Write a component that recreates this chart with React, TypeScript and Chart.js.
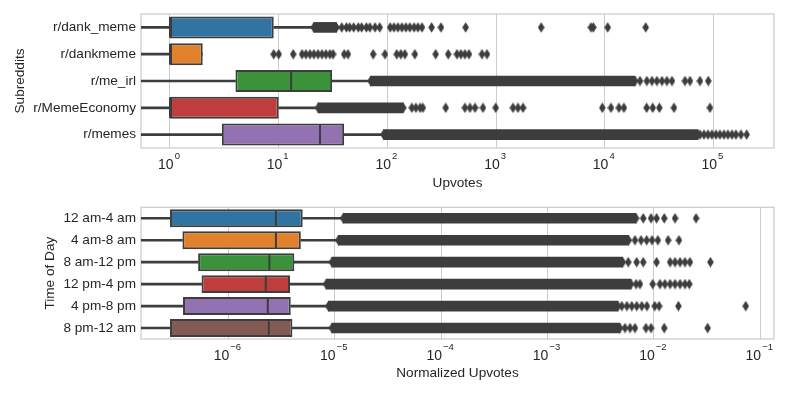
import React, { useEffect, useRef } from 'react';
import { Chart, registerables } from 'chart.js';

Chart.register(...registerables);

// ---------- data: subreddits (top panel) ----------
const subreddits = ['r/dank_meme', 'r/dankmeme', 'r/me_irl', 'r/MemeEconomy', 'r/memes'];
// lower whiskers reach 0 upvotes (off the log axis to the left)
const subWhiskerLow = [0.1, 0.1, 0.1, 0.1, 0.1];
const subQ1 = [1, 1, 4, 1, 3];
const subMedian = [1, 1, 13, 1, 24];
const subQ3 = [9, 2, 31, 10, 40];
const subWhiskerHigh = [21, 2, 69, 22, 91];
const subBandStart = [21, null, 70, 23, 92];
const subBandEnd = [34, null, 19000, 140, 72000];
const subOutliers: number[][] = [
  [21, 34, 38, 42, 45, 49, 54, 58, 64, 69, 77, 85, 106, 115, 125, 136, 148, 161, 176, 191, 208, 255, 311, 525, 2600, 7470, 7840, 10640, 23800],
  [9, 10, 13.6, 16.4, 17.8, 19.4, 21.1, 23, 25, 27.2, 29.6, 31.6, 40, 43.4, 74, 95, 122, 133, 145, 179, 278, 363, 437, 475, 517, 563, 742, 825],
  [70, 19000, 21080, 24400, 27200, 30200, 33600, 37300, 41500, 54700, 60800, 75100, 89600],
  [23, 140, 168, 183, 200, 212, 344, 517, 575, 640, 758, 992, 1430, 1590, 1770, 9490, 11400, 13500, 15000, 24300, 27600, 31800, 43300, 92900],
  [92, 72000, 75100, 81800, 89000, 96800, 105400, 114700, 124900, 135900, 148000, 161000, 179000, 202000],
];
const subTicks = [1, 10, 100, 1000, 10000, 100000];

// ---------- data: time of day (bottom panel) ----------
const timeSlots = ['12 am-4 am', '4 am-8 am', '8 am-12 pm', '12 pm-4 pm', '4 pm-8 pm', '8 pm-12 am'];
// lower whiskers reach 0 (off the log axis to the left)
const timeWhiskerLow = [1e-8, 1e-8, 1e-8, 1e-8, 1e-8, 1e-8];
const timeQ1 = [2.83e-7, 3.7e-7, 5.2e-7, 5.6e-7, 3.75e-7, 2.83e-7];
const timeMedian = [2.8e-6, 2.8e-6, 2.43e-6, 2.25e-6, 2.35e-6, 2.4e-6];
const timeQ3 = [5.0e-6, 4.8e-6, 4.17e-6, 3.8e-6, 3.86e-6, 4.0e-6];
const timeWhiskerHigh = [1.2e-5, 1.08e-5, 9.4e-6, 8.3e-6, 8.7e-6, 9.4e-6];
const timeBandStart = [1.2e-5, 1.08e-5, 9.4e-6, 8.3e-6, 8.7e-6, 9.4e-6];
const timeBandEnd = [6.8e-3, 5.8e-3, 5.1e-3, 6.1e-3, 4.6e-3, 4.8e-3];
const timeOutliers: number[][] = [
  [1.2e-5, 6.8e-3, 7.94e-3, 9.4e-3, 1.06e-2, 1.25e-2, 1.58e-2, 2.49e-2],
  [1.08e-5, 5.8e-3, 6.64e-3, 7.57e-3, 8.55e-3, 9.6e-3, 1.09e-2, 1.36e-2, 1.72e-2],
  [9.4e-6, 5.1e-3, 5.74e-3, 6.89e-3, 7.94e-3, 1.06e-2, 1.42e-2, 1.58e-2, 1.76e-2, 1.96e-2, 2.18e-2, 3.4e-2],
  [8.3e-6, 6.1e-3, 6.8e-3, 7.4e-3, 9.75e-3, 1.14e-2, 1.27e-2, 1.42e-2, 1.58e-2, 1.76e-2, 1.96e-2, 2.15e-2],
  [8.7e-6, 4.6e-3, 5.0e-3, 5.58e-3, 6.2e-3, 6.9e-3, 7.7e-3, 8.6e-3, 1.02e-2, 1.12e-2, 1.7e-2, 7.3e-2],
  [9.4e-6, 4.8e-3, 5.35e-3, 5.97e-3, 6.64e-3, 8.43e-3, 9.4e-3, 1.25e-2, 3.2e-2],
];
const timeTicks = [1e-6, 1e-5, 1e-4, 1e-3, 1e-2, 1e-1];

// ---------- styles ----------
const paletteTop = ['#3274A1', '#E1812C', '#3A923A', '#C03D3E', '#9372B2'];
const paletteBottom = ['#3274A1', '#E1812C', '#3A923A', '#C03D3E', '#9372B2', '#845B53'];
const FONT = "'Liberation Sans', Arial, sans-serif";
const TEXT = '#262626';
const LINE = '#3d3d3d';
const GRID = '#cccccc';

function makeDiamond(): HTMLCanvasElement {
  const c = document.createElement('canvas');
  c.width = 7;
  c.height = 11;
  const g = c.getContext('2d')!;
  g.fillStyle = LINE;
  g.beginPath();
  g.moveTo(3.5, 0.2);
  g.lineTo(6.8, 5.5);
  g.lineTo(3.5, 10.8);
  g.lineTo(0.2, 5.5);
  g.closePath();
  g.fill();
  return c;
}

const framePlugin = {
  id: 'frameAndLogTicks',
  beforeDatasetsDraw(chart: any) {
    const { ctx, chartArea: a } = chart;
    ctx.save();
    ctx.strokeStyle = GRID;
    ctx.lineWidth = 1.25;
    ctx.strokeRect(a.left, a.top, a.right - a.left, a.bottom - a.top);
    ctx.restore();
  },
  afterDraw(chart: any) {
    const s = chart.scales.x;
    const ctx = chart.ctx;
    ctx.save();
    ctx.fillStyle = TEXT;
    ctx.textBaseline = 'alphabetic';
    ctx.textAlign = 'left';
    for (const t of s.ticks) {
      const exp = Math.round(Math.log10(t.value));
      const base = '10';
      const sup = exp < 0 ? '\u2212' + String(-exp) : String(exp);
      ctx.font = `14px ${FONT}`;
      const bw = ctx.measureText(base).width;
      ctx.font = `9.5px ${FONT}`;
      const sw = ctx.measureText(sup).width;
      const total = bw + 1 + sw;
      const x0 = s.getPixelForValue(t.value) - total / 2 - 1;
      const y = s.top + 21.3;
      ctx.font = `14px ${FONT}`;
      ctx.fillText(base, x0, y);
      ctx.font = `9.5px ${FONT}`;
      ctx.fillText(sup, x0 + bw + 1, y - 10);
    }
    ctx.restore();
  },
};

interface PanelCfg {
  labels: string[];
  low: number[];
  q1: number[];
  med: number[];
  q3: number[];
  high: number[];
  bandStart: (number | null)[];
  bandEnd: (number | null)[];
  outliers: number[][];
  colors: string[];
  ticks: number[];
  min: number;
  max: number;
  xTitle: string;
  yTitle: string;
  padTop: number;
  xAxisHeight: number;
  xTitlePadBottom: number;
  yTitlePad: number;
  medianRadius: number;
}

function buildChart(canvas: HTMLCanvasElement, p: PanelCfg) {
  const diamond = makeDiamond();
  const outlierPts: { x: number; y: string }[] = [];
  p.outliers.forEach((row, i) => row.forEach((v) => outlierPts.push({ x: v, y: p.labels[i] })));
  const medianPts = p.med.map((v, i) => ({ x: v, y: p.labels[i] }));

  return new Chart(canvas, {
    type: 'bar',
    data: {
      labels: p.labels,
      datasets: [
        {
          type: 'bar',
          label: 'band',
          data: p.bandStart.map((s, i) => (s === null ? null : [s, p.bandEnd[i]])) as any,
          backgroundColor: LINE,
          borderWidth: 0,
          barThickness: 10,
          grouped: false,
          clip: 0,
          order: 3,
        } as any,
        {
          type: 'bar',
          label: 'whiskerLow',
          data: p.low.map((v, i) => [v, p.q1[i]]) as any,
          backgroundColor: LINE,
          borderWidth: 0,
          barThickness: 2,
          grouped: false,
          clip: 0,
          order: 2,
        } as any,
        {
          type: 'bar',
          label: 'whiskerHigh',
          data: p.q3.map((v, i) => [v, p.high[i]]) as any,
          backgroundColor: LINE,
          borderWidth: 0,
          barThickness: 2,
          grouped: false,
          clip: 0,
          order: 2,
        } as any,
        {
          type: 'bar',
          label: 'box',
          data: p.q1.map((v, i) => [v, p.q3[i]]) as any,
          backgroundColor: p.colors,
          borderColor: LINE,
          borderWidth: 2,
          borderSkipped: false,
          barPercentage: 0.82,
          categoryPercentage: 1,
          grouped: false,
          clip: 0,
          order: 1,
        } as any,
        {
          type: 'scatter',
          label: 'median',
          data: medianPts as any,
          pointStyle: 'line',
          rotation: 90,
          radius: p.medianRadius,
          borderColor: LINE,
          borderWidth: 2,
          order: 0,
        } as any,
        {
          type: 'scatter',
          label: 'outliers',
          data: outlierPts as any,
          pointStyle: diamond,
          radius: 5,
          order: 0,
        } as any,
      ],
    },
    options: {
      indexAxis: 'y',
      animation: false,
      responsive: false,
      devicePixelRatio: 1,
      events: [],
      layout: { padding: { top: p.padTop, left: 0, right: 15, bottom: 0 } },
      plugins: { legend: { display: false }, tooltip: { enabled: false } },
      scales: {
        x: {
          type: 'logarithmic',
          position: 'bottom',
          min: p.min,
          max: p.max,
          grid: { color: GRID, lineWidth: 1, drawTicks: false },
          border: { display: false },
          ticks: { display: false },
          title: {
            display: true,
            text: p.xTitle,
            color: TEXT,
            font: { family: FONT, size: 13.6 },
            padding: { top: 0, bottom: p.xTitlePadBottom },
          },
          afterBuildTicks: (scale: any) => {
            scale.ticks = p.ticks.map((v) => ({ value: v }));
          },
          afterFit: (scale: any) => {
            scale.height = p.xAxisHeight;
            scale.paddingLeft = 0;
            scale.paddingRight = 0;
          },
        },
        y: {
          type: 'category',
          offset: true,
          grid: { display: false, drawTicks: false, tickLength: 0 },
          border: { display: false },
          ticks: { color: TEXT, font: { family: FONT, size: 13.6 }, padding: 5 },
          title: {
            display: true,
            text: p.yTitle,
            color: TEXT,
            font: { family: FONT, size: 13.6 },
            padding: { top: p.yTitlePad, bottom: 0 },
          },
          afterFit: (scale: any) => {
            scale.width = 141;
            scale.paddingTop = 0;
            scale.paddingBottom = 0;
          },
        },
      },
    } as any,
    plugins: [framePlugin],
  });
}

function Panel({ cfg, top, height }: { cfg: PanelCfg; top: number; height: number }) {
  const ref = useRef<HTMLCanvasElement>(null);
  useEffect(() => {
    if (!ref.current) return;
    const chart = buildChart(ref.current, cfg);
    return () => chart.destroy();
  }, []);
  return (
    <canvas
      ref={ref}
      width={789}
      height={height}
      style={{ position: 'absolute', left: 0, top, width: 789, height, display: 'block' }}
    />
  );
}

const topCfg: PanelCfg = {
  labels: subreddits,
  low: subWhiskerLow,
  q1: subQ1,
  med: subMedian,
  q3: subQ3,
  high: subWhiskerHigh,
  bandStart: subBandStart,
  bandEnd: subBandEnd,
  outliers: subOutliers,
  colors: paletteTop,
  ticks: subTicks,
  min: 0.541,
  max: 360600,
  xTitle: 'Upvotes',
  yTitle: 'Subreddits',
  padTop: 14,
  xAxisHeight: 49,
  xTitlePadBottom: 5.8,
  yTitlePad: 11.8,
  medianRadius: 10.3,
};

const bottomCfg: PanelCfg = {
  labels: timeSlots,
  low: timeWhiskerLow,
  q1: timeQ1,
  med: timeMedian,
  q3: timeQ3,
  high: timeWhiskerHigh,
  bandStart: timeBandStart,
  bandEnd: timeBandEnd,
  outliers: timeOutliers,
  colors: paletteBottom,
  ticks: timeTicks,
  min: 1.51e-7,
  max: 0.1346,
  xTitle: 'Normalized Upvotes',
  yTitle: 'Time of Day',
  padTop: 8,
  xAxisHeight: 56,
  xTitlePadBottom: 13.3,
  yTitlePad: 41.8,
  medianRadius: 8.3,
};

export default function App() {
  return (
    <div style={{ position: 'absolute', left: 0, top: 0, width: 789, height: 395, background: '#ffffff', overflow: 'hidden' }}>
      <Panel cfg={topCfg} top={0} height={197} />
      <Panel cfg={bottomCfg} top={197} height={198} />
    </div>
  );
}
